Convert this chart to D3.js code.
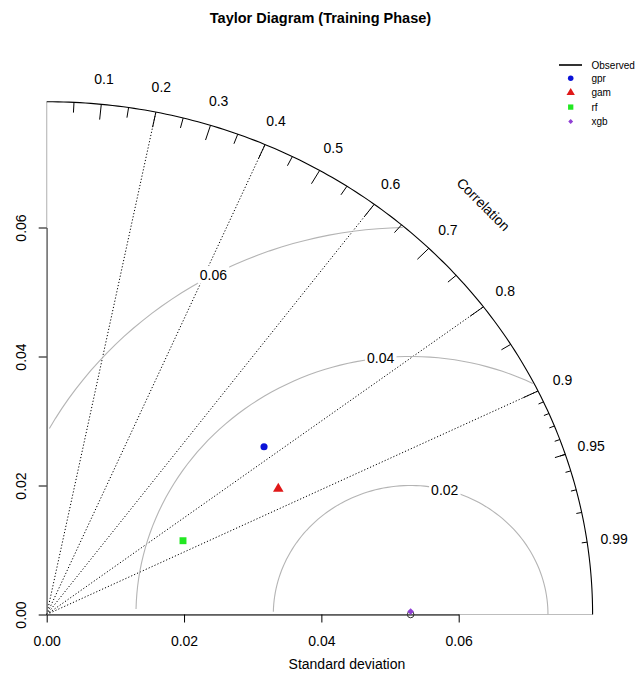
<!DOCTYPE html>
<html>
<head>
<meta charset="utf-8">
<script src="https://cdn.jsdelivr.net/npm/d3@7"></script>
<style>
  html, body { margin: 0; padding: 0; background: #fff; }
  svg { display: block; font-family: "Liberation Sans", Arial, sans-serif; }
</style>
</head>
<body>
<svg id="chart" width="641" height="673"></svg>
<script>
// ---- data ----
const refSd = 0.053;                                   // observed standard deviation
const models = ["gpr", "gam", "rf", "xgb"];
const modelSd = [0.04097, 0.03896, 0.02291, 0.0530];
const modelCor = [0.7725, 0.8657, 0.8664, 0.99996];
const modelColors = ["#0a12d8", "#e01818", "#22e822", "#9040d4"];
const modelShapes = ["circle", "triangle", "square", "diamond"];

const axisTicks = [0, 0.02, 0.04, 0.06];
const gammaLevels = [0.02, 0.04, 0.06];                 // centred RMS difference arcs
const corLines = [0.2, 0.4, 0.6, 0.8, 0.9];              // dotted correlation rays
const corBigTicks = [0.1, 0.2, 0.3, 0.4, 0.5, 0.6, 0.7, 0.8, 0.9];
const corMedTicks = [0.05, 0.15, 0.25, 0.35, 0.45, 0.55, 0.65, 0.75, 0.85, 0.95];
const corSmallTicks = [0.91, 0.92, 0.93, 0.94, 0.95, 0.96, 0.97, 0.98, 0.99];
const corLabels = [0.1, 0.2, 0.3, 0.4, 0.5, 0.6, 0.7, 0.8, 0.9, 0.95, 0.99];

const maxsd = 1.5 * Math.max(refSd, ...modelSd);

// ---- scales ----
const svg = d3.select("#chart");
const x = d3.scaleLinear().domain([0, 0.06]).range([46.7, 458.7]);
const y = d3.scaleLinear().domain([0, 0.06]).range([614.5, 227.5]);
const FONT = 14;

const polar = (r, c) => [x(r * c), y(r * Math.sqrt(Math.max(0, 1 - c * c)))];
const line = d3.line().x(d => x(d[0])).y(d => y(d[1]));

// light base lines along both axes out to the outer arc
svg.append("line").attr("x1", x(0)).attr("x2", x(maxsd)).attr("y1", y(0)).attr("y2", y(0))
  .attr("stroke", "#bdbdbd").attr("stroke-width", 1);
svg.append("line").attr("x1", x(0)).attr("x2", x(0)).attr("y1", y(0)).attr("y2", y(maxsd))
  .attr("stroke", "#bdbdbd").attr("stroke-width", 1.2);

// dotted correlation rays
corLines.forEach(c => {
  const [x2, y2] = polar(maxsd, c);
  svg.append("line").attr("x1", x(0)).attr("y1", y(0)).attr("x2", x2).attr("y2", y2)
    .attr("stroke", "#000").attr("stroke-width", 1).attr("stroke-dasharray", "1.2,2");
});

// RMS difference arcs around the observed point, clipped to the outer arc
const step = 0.03;
const angles = d3.range(0, Math.PI, step);
const labelPos = gammaLevels.map((_, i) =>
  Math.floor(45 + (70 - 45) * (gammaLevels.length > 1 ? i / (gammaLevels.length - 1) : 0)));
gammaLevels.forEach((g, gi) => {
  const pts = angles.map(a => [Math.cos(a) * g + refSd, Math.sin(a) * g]);
  let end = pts.findIndex(p => p[0] < 0);
  end = end >= 0 ? end - 1 : pts.length - 1;
  let start = -1;
  pts.forEach((p, i) => { if (p[0] * p[0] + p[1] * p[1] > maxsd * maxsd) start = i; });
  start = start + 1;
  svg.append("path").attr("d", line(pts.slice(start, end + 1)))
    .attr("fill", "none").attr("stroke", "#b4b4b4").attr("stroke-width", 1.1);

  const lp = pts[labelPos[gi] - 1];
  if (lp[0] > 0) {
    const g2 = svg.append("g").attr("transform", `translate(${x(lp[0])},${y(lp[1])})`);
    const t = g2.append("text").attr("text-anchor", "middle").attr("dy", "0.36em")
      .attr("font-size", FONT).text(d3.format(".2f")(g));
    const bb = t.node().getBBox();
    g2.insert("rect", "text").attr("x", bb.x - 2).attr("y", bb.y - 1)
      .attr("width", bb.width + 4).attr("height", bb.height + 2).attr("fill", "#fff");
  }
});

// outer standard deviation arc
const outer = d3.range(0, Math.PI / 2, 0.01).concat([Math.PI / 2])
  .map(a => [Math.cos(a) * maxsd, Math.sin(a) * maxsd]);
svg.append("path").attr("d", line(outer)).attr("fill", "none")
  .attr("stroke", "#000").attr("stroke-width", 1.1);

// correlation ticks on the outer arc
function ticks(vals, frac) {
  vals.forEach(c => {
    const [x1, y1] = polar(maxsd, c);
    const [x2, y2] = polar(maxsd * frac, c);
    svg.append("line").attr("x1", x1).attr("y1", y1).attr("x2", x2).attr("y2", y2)
      .attr("stroke", "#000").attr("stroke-width", 1);
  });
}
ticks(corBigTicks, 0.97);
ticks(corMedTicks, 0.98);
ticks(corSmallTicks, 0.99);

// correlation labels
corLabels.forEach(c => {
  const [lx, ly] = polar(maxsd * 1.05, c);
  svg.append("text").attr("x", lx).attr("y", ly).attr("dy", "0.36em")
    .attr("text-anchor", "middle").attr("font-size", FONT).text(c);
});
svg.append("text")
  .attr("transform", `translate(${x(maxsd * 0.8)},${y(maxsd * 0.8)}) rotate(45)`)
  .attr("dy", "0.36em").attr("text-anchor", "middle").attr("font-size", FONT)
  .text("Correlation");

// axes
const xAxis = svg.append("g").attr("transform", `translate(0,${y(0)})`)
  .call(d3.axisBottom(x).tickValues(axisTicks).tickFormat(d3.format(".2f"))
    .tickSize(8).tickSizeOuter(0).tickPadding(14));
xAxis.selectAll("text").attr("font-size", FONT).attr("font-family", null).attr("fill", "#000");
xAxis.select(".domain").attr("stroke", "#000");

const yAxis = svg.append("g").attr("transform", `translate(${x(0)},0)`)
  .call(d3.axisLeft(y).tickValues(axisTicks).tickFormat(d3.format(".2f"))
    .tickSize(8).tickSizeOuter(0));
yAxis.select(".domain").attr("stroke", "#6a6a6a").attr("stroke-width", 1.3);
yAxis.selectAll("text").attr("font-size", FONT).attr("font-family", null).attr("fill", "#000")
  .attr("x", null).attr("dy", null).attr("text-anchor", "middle")
  .attr("transform", "translate(-21,0) rotate(-90)");

svg.append("text").attr("x", x(maxsd * 1.1 / 2)).attr("y", 669)
  .attr("text-anchor", "middle").attr("font-size", FONT).text("Standard deviation");

// observed reference point
svg.append("circle").attr("cx", x(refSd)).attr("cy", y(0)).attr("r", 3.3)
  .attr("fill", "none").attr("stroke", "#333").attr("stroke-width", 1);

// model points (diamond = square turned 45 degrees)
const symType = { circle: d3.symbolCircle, triangle: d3.symbolTriangle,
                  square: d3.symbolSquare, diamond: d3.symbolSquare };
const symRot = { circle: 0, triangle: 0, square: 0, diamond: 45 };
const bigSize = { circle: 40, triangle: 48, square: 48, diamond: 22 };
const smallSize = { circle: 24, triangle: 30, square: 28, diamond: 12 };
models.forEach((m, i) => {
  const [px, py] = polar(modelSd[i], modelCor[i]);
  const s = modelShapes[i];
  svg.append("path")
    .attr("d", d3.symbol().type(symType[s]).size(bigSize[s])())
    .attr("transform", `translate(${px},${py}) rotate(${symRot[s]})`).attr("fill", modelColors[i]);
});

// title
svg.append("text").attr("x", 320.5).attr("y", 23).attr("text-anchor", "middle")
  .attr("font-size", 14.5).attr("font-weight", "bold").text("Taylor Diagram (Training Phase)");

// legend
const lg = svg.append("g").attr("font-size", 10);
lg.append("line").attr("x1", 559).attr("x2", 582).attr("y1", 65).attr("y2", 65)
  .attr("stroke", "#000").attr("stroke-width", 1.6);
lg.append("text").attr("x", 591.5).attr("y", 65).attr("dy", "0.35em").text("Observed");
models.forEach((m, i) => {
  const ry = 78.3 + i * 14.4;
  const s = modelShapes[i];
  lg.append("path")
    .attr("d", d3.symbol().type(symType[s]).size(smallSize[s])())
    .attr("transform", `translate(570.7,${ry}) rotate(${symRot[s]})`).attr("fill", modelColors[i]);
  lg.append("text").attr("x", 591.5).attr("y", ry).attr("dy", "0.35em").text(m);
});
</script>
</body>
</html>
